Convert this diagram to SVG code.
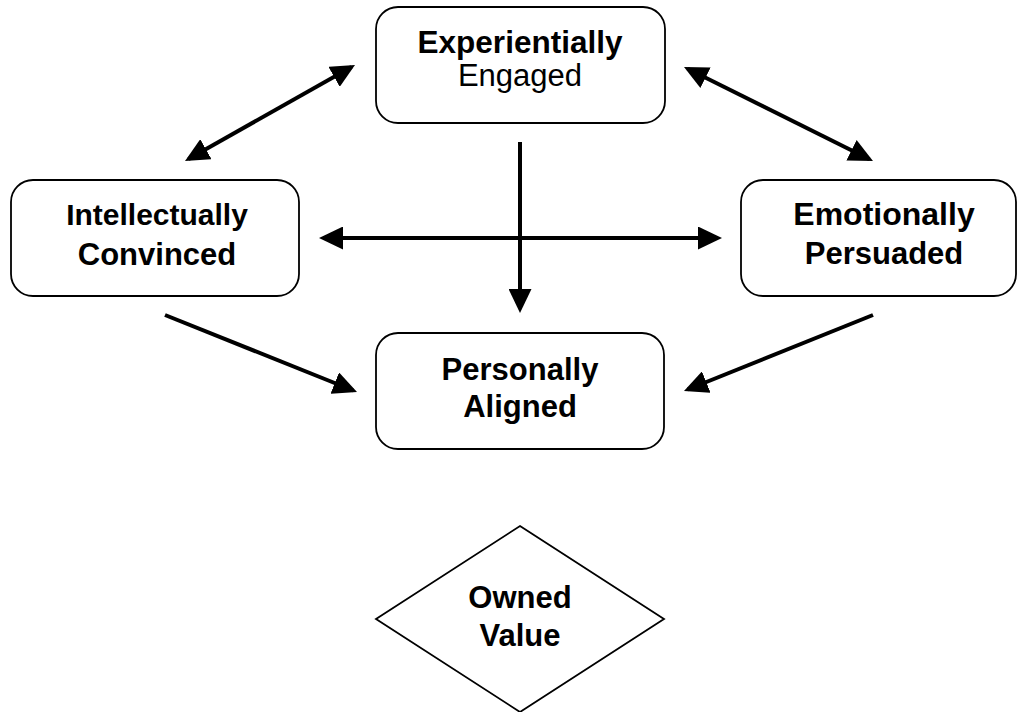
<svg xmlns="http://www.w3.org/2000/svg" width="1018" height="712" viewBox="0 0 1018 712">
<style>
.box{fill:#fff;stroke:#000;stroke-width:1.8}
.t{font-family:"Liberation Sans",Arial,sans-serif;font-size:31px;text-anchor:middle;fill:#000}
.b{font-weight:bold}
.c{stroke:#000;stroke-width:4;fill:none}
</style>
<defs>
<marker id="ah" viewBox="0 0 24 23" refX="20" refY="11.5" markerWidth="24" markerHeight="23" markerUnits="userSpaceOnUse" orient="auto-start-reverse">
<path d="M0,0 L24,11.5 L0,23 Z" fill="#000"/>
</marker>
</defs>
<rect width="1018" height="712" fill="#fff"/>
<g id="connectors">
<line class="c" x1="188.5" y1="159" x2="351.5" y2="67" marker-start="url(#ah)" marker-end="url(#ah)"/>
<line class="c" x1="687.6" y1="68.8" x2="869.4" y2="159.2" marker-start="url(#ah)" marker-end="url(#ah)"/>
<line class="c" x1="323" y1="238" x2="718" y2="238" marker-start="url(#ah)" marker-end="url(#ah)"/>
<line class="c" x1="520" y1="142" x2="520" y2="309" marker-end="url(#ah)"/>
<line class="c" x1="165" y1="315" x2="353.3" y2="390.5" marker-end="url(#ah)"/>
<line class="c" x1="873" y1="315" x2="687.7" y2="389.5" marker-end="url(#ah)"/>
</g>
<g id="experientially">
<rect class="box" x="376" y="7" width="289" height="116" rx="22"/>
<text class="t b" x="520" y="53" style="font-size:31.5px">Experientially</text>
<text class="t" x="520" y="86" style="font-size:31px">Engaged</text>
</g>
<g id="intellectually">
<rect class="box" x="11" y="180" width="288" height="116" rx="22"/>
<text class="t b" x="157" y="225" style="font-size:30px">Intellectually</text>
<text class="t b" x="157" y="265">Convinced</text>
</g>
<g id="emotionally">
<rect class="box" x="741" y="180" width="275" height="116" rx="22"/>
<text class="t b" x="884" y="225" style="font-size:32px">Emotionally</text>
<text class="t b" x="884" y="264">Persuaded</text>
</g>
<g id="personally">
<rect class="box" x="376" y="333" width="288" height="116" rx="22"/>
<text class="t b" x="520" y="380">Personally</text>
<text class="t b" x="520" y="417">Aligned</text>
</g>
<g id="owned">
<polygon class="box" points="520,526 664,619 520,712 376,619"/>
<text class="t b" x="520" y="608">Owned</text>
<text class="t b" x="520" y="646">Value</text>
</g>
</svg>
